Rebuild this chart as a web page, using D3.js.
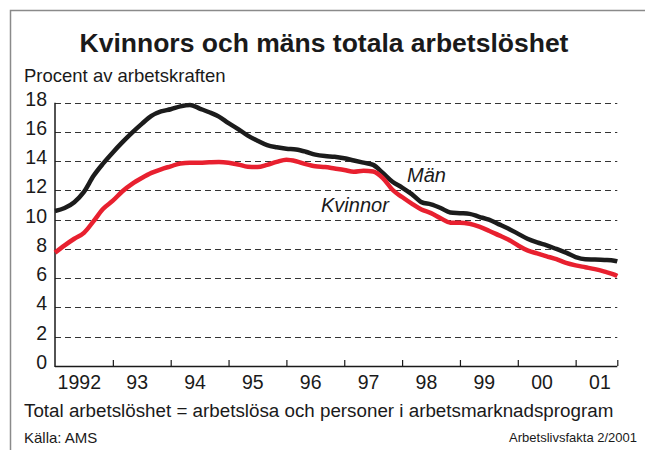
<!DOCTYPE html>
<html>
<head>
<meta charset="utf-8">
<script src="https://cdn.jsdelivr.net/npm/d3@7/dist/d3.min.js"></script>
<style>
  html, body { margin: 0; padding: 0; background: #fff; }
  svg { display: block; font-family: "Liberation Sans", Arial, Helvetica, sans-serif; }
</style>
</head>
<body>
<svg id="chart" width="645" height="450"></svg>
<script>
// ---- Data ----
// Sample times: every two months from Jan 1992, last sample ~Sep 2001
const months = d3.range(0, 59).map(k => 1992 + k / 6).concat([2001.72]);
const man = [10.6, 10.8, 11.2, 11.9, 13.0, 13.85, 14.6, 15.3, 15.95, 16.55,
             17.1, 17.4, 17.55, 17.75, 17.85, 17.6, 17.35, 17.05, 16.6, 16.2,
             15.75, 15.4, 15.1, 14.95, 14.85, 14.8, 14.65, 14.45, 14.35, 14.3,
             14.2, 14.05, 13.9, 13.75, 13.2, 12.6, 12.2, 11.75, 11.2, 11.05,
             10.8, 10.5, 10.45, 10.4, 10.2, 10.0, 9.7, 9.4, 9.05, 8.7,
             8.45, 8.25, 8.0, 7.75, 7.45, 7.3, 7.28, 7.25, 7.2, 7.15];
const kvinnor = [7.75, 8.25, 8.7, 9.1, 9.9, 10.75, 11.3, 11.95, 12.45, 12.85,
                 13.2, 13.45, 13.65, 13.85, 13.9, 13.9, 13.93, 13.95, 13.9, 13.78,
                 13.62, 13.6, 13.75, 13.95, 14.1, 14.0, 13.8, 13.65, 13.6, 13.5,
                 13.4, 13.28, 13.35, 13.3, 12.85, 12.05, 11.55, 11.1, 10.7, 10.45,
                 10.1, 9.8, 9.8, 9.72, 9.52, 9.25, 8.95, 8.65, 8.25, 7.9,
                 7.7, 7.5, 7.3, 7.05, 6.88, 6.75, 6.62, 6.45, 6.25, 6.15];
const yearTicks = [1992, 1993, 1994, 1995, 1996, 1997, 1998, 1999, 2000, 2001];
const yearLabels = ["1992", "93", "94", "95", "96", "97", "98", "99", "00", "01"];
const yTicks = [0, 2, 4, 6, 8, 10, 12, 14, 16, 18];

const title = "Kvinnors och mäns totala arbetslöshet";
const yTitle = "Procent av arbetskraften";
const note = "Total arbetslöshet = arbetslösa och personer i arbetsmarknadsprogram";
const source = "Källa: AMS";
const pub = "Arbetslivsfakta 2/2001";

// ---- Layout ----
const svg = d3.select("#chart");
const mLeft = 55, mRight = 617.3, mTop = 102.7, mBottom = 366;

const x = d3.scaleLinear().domain([1992, 2001.72]).range([mLeft, mRight]);
const y = d3.scaleLinear().domain([0, 18]).range([mBottom, mTop]);

// frame
svg.append("path")
  .attr("d", `M10.5,450 V10.5 H645`)
  .attr("fill", "none").attr("stroke", "#8a8a8a").attr("stroke-width", 1.5);

// title
svg.append("text").attr("x", 324).attr("y", 52)
  .attr("text-anchor", "middle").attr("font-weight", "bold")
  .attr("font-size", 26.5).attr("fill", "#1a1a1a").text(title);

svg.append("text").attr("x", 24).attr("y", 82)
  .attr("font-size", 18.5).attr("fill", "#1a1a1a").text(yTitle);

// grid lines
svg.append("g").selectAll("line").data(yTicks.filter(d => d > 0)).join("line")
  .attr("x1", mLeft).attr("x2", mRight)
  .attr("y1", d => Math.round(y(d)) + 0.5).attr("y2", d => Math.round(y(d)) + 0.5)
  .attr("stroke", "#333").attr("stroke-width", 1)
  .attr("stroke-dasharray", "6,4");

// y labels
svg.append("g").selectAll("text").data(yTicks).join("text")
  .attr("x", 47).attr("y", d => y(d) + 3)
  .attr("text-anchor", "end").attr("font-size", 19.5).attr("fill", "#1a1a1a")
  .text(d => d);

// axes
const xAxis = d3.axisBottom(x).tickValues(yearTicks.slice(1).concat([2001.72]))
  .tickSize(-6).tickFormat("");
const gx = svg.append("g").attr("transform", `translate(0,${mBottom})`).call(xAxis);
gx.select(".domain").attr("d", `M${mLeft},0.5H${mRight}`).attr("stroke", "#1a1a1a").attr("stroke-width", 1.5);
gx.selectAll(".tick line").attr("stroke", "#1a1a1a").attr("stroke-width", 1.2);

svg.append("line").attr("x1", mLeft).attr("x2", mLeft).attr("y1", mTop).attr("y2", mBottom + 1)
  .attr("stroke", "#1a1a1a").attr("stroke-width", 1.5);

// x labels
svg.append("g").selectAll("text").data(yearTicks).join("text")
  .attr("x", (d, i) => x(d + 0.42))
  .attr("y", 388.5).attr("text-anchor", "middle")
  .attr("font-size", 19.5).attr("fill", "#1a1a1a")
  .text((d, i) => yearLabels[i]);

// lines
const line = d3.line().x((d, i) => x(months[i])).y(d => y(d)).curve(d3.curveMonotoneX);
svg.append("path").datum(man).attr("d", line)
  .attr("fill", "none").attr("stroke", "#1c1c1c").attr("stroke-width", 4.5)
  .attr("stroke-linejoin", "round").attr("stroke-linecap", "butt");
svg.append("path").datum(kvinnor).attr("d", line)
  .attr("fill", "none").attr("stroke", "#e8202f").attr("stroke-width", 4.5)
  .attr("stroke-linejoin", "round").attr("stroke-linecap", "butt");

// series labels
svg.append("text").attr("x", 407).attr("y", 182).attr("font-style", "italic")
  .attr("font-size", 20).attr("fill", "#1a1a1a").text("Män");
svg.append("text").attr("x", 321).attr("y", 212).attr("font-style", "italic")
  .attr("font-size", 20).attr("fill", "#1a1a1a").text("Kvinnor");

// footer
svg.append("text").attr("x", 24).attr("y", 417)
  .attr("font-size", 18.8).attr("fill", "#1a1a1a").text(note);
svg.append("text").attr("x", 24).attr("y", 443)
  .attr("font-size", 15).attr("fill", "#1a1a1a").text(source);
svg.append("text").attr("x", 637).attr("y", 442).attr("text-anchor", "end")
  .attr("font-size", 13).attr("fill", "#1a1a1a").text(pub);
</script>
</body>
</html>
